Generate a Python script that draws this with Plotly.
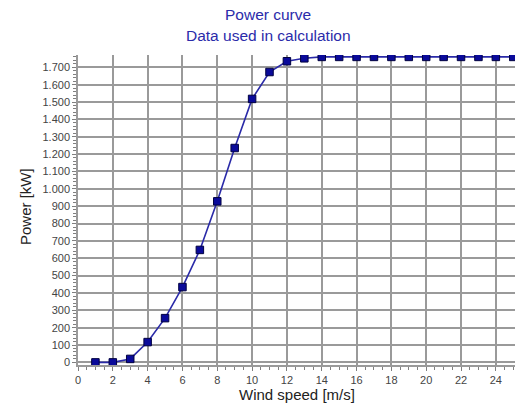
import plotly.graph_objects as go

# Power curve: wind speed [m/s] vs. electrical power [kW]
wind_speed = [1, 2, 3, 4, 5, 6, 7, 8, 9, 10, 11, 12, 13, 14, 15, 16, 17, 18, 19, 20, 21, 22, 23, 24, 25]
power_kw = [0, 0, 20, 117, 255, 434, 648, 928, 1235, 1518, 1673, 1735, 1752,
            1760, 1760, 1760, 1760, 1760, 1760, 1760, 1760, 1760, 1760, 1760, 1760]

title_lines = ["Power curve", "Data used in calculation"]
x_title = "Wind speed [m/s]"
y_title = "Power [kW]"

grid_col = "#9a9a9a"
font_fam = "Liberation Sans, Arial, sans-serif"

W, H = 515, 406
M_L, M_R, M_T, M_B = 78, 0, 55, 41
plot_h = H - M_T - M_B
plot_w = W - M_L - M_R


def py(px_from_top):
    """Paper y coordinate for a pixel row measured from the top of the page."""
    return (H - M_B - px_from_top) / plot_h


def px(px_from_left):
    """Paper x coordinate for a pixel column measured from the page's left edge."""
    return (px_from_left - M_L) / plot_w


fig = go.Figure()
fig.add_trace(go.Scatter(
    x=wind_speed, y=power_kw,
    mode="lines+markers",
    line=dict(color="#2a2aa8", width=1.6),
    marker=dict(symbol="square", size=7.5, color="#0a0a9a",
                line=dict(color="#000040", width=1)),
    showlegend=False,
))

annotations = []
for text, row in zip(title_lines, [15, 35]):
    annotations.append(dict(
        text=text, xref="paper", yref="paper", x=px(268), y=py(row),
        xanchor="center", yanchor="middle", showarrow=False,
        font=dict(family=font_fam, size=15.5, color="#2b2baa"),
    ))
annotations.append(dict(
    text=x_title, xref="paper", yref="paper", x=px(297), y=py(394),
    xanchor="center", yanchor="middle", showarrow=False,
    font=dict(family=font_fam, size=15, color="#222222"),
))
annotations.append(dict(
    text=y_title, xref="paper", yref="paper", x=px(25), y=py(207),
    xanchor="center", yanchor="middle", showarrow=False, textangle=-90,
    font=dict(family=font_fam, size=15, color="#222222"),
))

fig.update_layout(
    width=W, height=H,
    margin=dict(l=M_L, r=M_R, t=M_T, b=M_B),
    paper_bgcolor="white", plot_bgcolor="white",
    font=dict(family=font_fam, color="#333333"),
    separators=",.",
    annotations=annotations,
)

fig.update_xaxes(
    range=[0, 25.1], tick0=0, dtick=2,
    showgrid=True, gridcolor=grid_col, gridwidth=1.6,
    showline=True, linecolor=grid_col, linewidth=1.6,
    ticks="outside", ticklen=4, tickcolor="#808080", tickwidth=1,
    minor=dict(dtick=0.5, ticks="outside", ticklen=3, tickcolor="#808080", showgrid=False),
    tickfont=dict(size=11, color="#444444"),
    zeroline=False,
)

fig.update_yaxes(
    range=[-15, 1771], tick0=0, dtick=100, tickformat=",d",
    showgrid=True, gridcolor=grid_col, gridwidth=1.6,
    showline=True, linecolor=grid_col, linewidth=1.6,
    ticks="outside", ticklen=4, tickcolor="#808080", tickwidth=1,
    minor=dict(dtick=20, ticks="outside", ticklen=3, tickcolor="#808080", showgrid=False),
    tickfont=dict(size=11, color="#444444"),
    zeroline=False,
)

fig.write_html("out.html")
